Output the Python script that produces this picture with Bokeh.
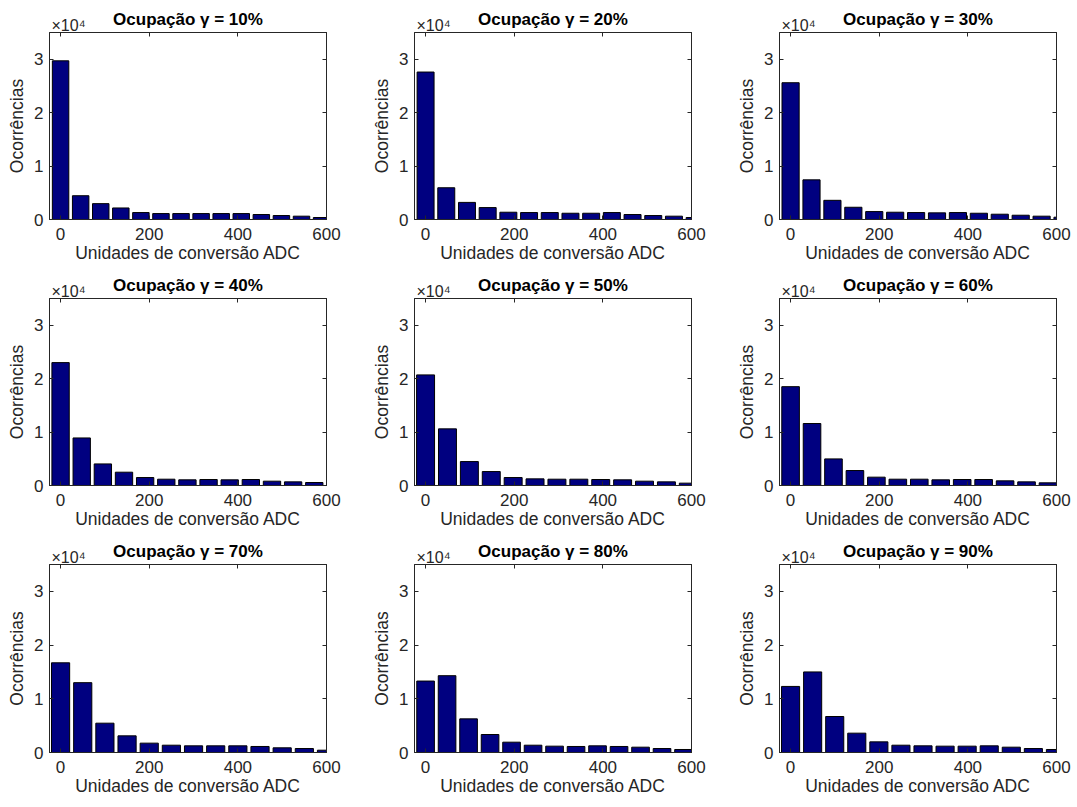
from bokeh.plotting import figure
from bokeh.models import Range1d, FixedTicker, LinearAxis, Title
from bokeh.layouts import row, column
from bokeh.embed import file_html
from bokeh.resources import INLINE

# ---- data ----
occupancy = ["10%", "20%", "30%", "40%", "50%", "60%", "70%", "80%", "90%"]
bin_step = [45.3, 46.7, 47.2, 47.7, 49.4, 48.4, 50.0, 48.5, 49.8]

counts_10 = [29700, 4450, 2970, 2160, 1300, 1110, 1110, 1110, 1110, 1110, 930, 740, 620, 370]
counts_20 = [27600, 5940, 3200, 2230, 1360, 1300, 1300, 1170, 1170, 1300, 930, 740, 620, 370]
counts_30 = [25600, 7420, 3590, 2290, 1480, 1360, 1300, 1240, 1300, 1170, 990, 800, 620, 430]
counts_40 = [23000, 8900, 4040, 2490, 1490, 1180, 1060, 1120, 1060, 1120, 810, 680, 560]
counts_50 = [20700, 10600, 4480, 2610, 1490, 1240, 1180, 1180, 1120, 1060, 810, 680, 440]
counts_60 = [18500, 11600, 4980, 2800, 1560, 1180, 1180, 1060, 1120, 1120, 870, 680, 500]
counts_70 = [16700, 13000, 5460, 3100, 1740, 1360, 1240, 1240, 1240, 1120, 870, 740, 430]
counts_80 = [13300, 14300, 6260, 3350, 1920, 1360, 1180, 1120, 1240, 1120, 990, 740, 560]
counts_90 = [12300, 15000, 6700, 3600, 1980, 1360, 1240, 1180, 1180, 1240, 990, 740, 560]

all_counts = [counts_10, counts_20, counts_30, counts_40, counts_50,
              counts_60, counts_70, counts_80, counts_90]

x_ticks = [0, 200, 400, 600]
y_ticks = [0, 10000, 20000, 30000]
y_tick_labels = {0: "0", 10000: "1", 20000: "2", 30000: "3"}

FONT = "Liberation Sans"
AX = "#262626"
BAR = "#000080"

col_w = [365, 365, 347]
row_h = [266, 266, 275]
frame_w = 277


def make_panel(i):
    r, c = divmod(i, 3)
    W, H = col_w[c], row_h[r]
    frame_h = 187 if r < 2 else 188
    bl, bt = 49, 32
    br = W - bl - frame_w
    bb = H - bt - frame_h
    p = figure(width=W, height=H, output_backend="svg", toolbar_location=None,
               title_location=None,
               x_range=Range1d(-25, 600), y_range=Range1d(0, 35000),
               min_border_left=bl, min_border_right=br,
               min_border_top=bt, min_border_bottom=bb,
               background_fill_color="white", border_fill_color="white")
    p.xgrid.visible = False
    p.ygrid.visible = False
    p.outline_line_color = AX

    counts = all_counts[i]
    step = bin_step[i]
    centers = [k * step for k in range(len(counts))]
    p.vbar(x=centers, top=counts, width=0.82 * step, bottom=0,
           fill_color=BAR, line_color="black", line_width=1)

    for ax in p.xaxis:
        ax.ticker = FixedTicker(ticks=x_ticks)
        ax.axis_label = "Unidades de conversão ADC"
    for ax in p.yaxis:
        ax.ticker = FixedTicker(ticks=y_ticks)
        ax.major_label_overrides = y_tick_labels
        ax.axis_label = "Ocorrências"
    for ax in list(p.xaxis) + list(p.yaxis):
        ax.major_tick_in = 4
        ax.major_tick_out = 0
        ax.minor_tick_line_color = None
        ax.axis_line_color = AX
        ax.major_tick_line_color = AX
        ax.major_label_text_color = AX
        ax.major_label_text_font = FONT
        ax.major_label_text_font_size = "17px"
        ax.axis_label_text_font = FONT
        ax.axis_label_text_font_size = "17.5px"
        ax.axis_label_text_font_style = "normal"
        ax.axis_label_text_color = AX
    p.xaxis.major_label_standoff = 8
    p.xaxis.axis_label_standoff = 0
    p.yaxis.major_label_standoff = 6
    p.yaxis.axis_label_standoff = 4

    # mirrored box ticks (labels not drawn)
    for loc, tk in (("above", x_ticks), ("right", y_ticks)):
        mirror = LinearAxis(ticker=FixedTicker(ticks=tk), major_tick_in=4, major_tick_out=0,
                            minor_tick_line_color=None, major_label_text_font_size="1px",
                            major_label_text_color=None, axis_line_color=AX,
                            major_tick_line_color=AX, major_label_standoff=0)
        p.add_layout(mirror, loc)

    exp_title = Title(text="×10⁴", align="left", offset=2, standoff=-2,
                      text_font=FONT, text_font_size="16px", text_font_style="normal",
                      text_color=AX)
    main_title = Title(text="Ocupação γ = " + occupancy[i], align="center", standoff=-27,
                       text_font=FONT, text_font_size="17px", text_font_style="bold",
                       text_color="black")
    p.add_layout(exp_title, "above")
    p.add_layout(main_title, "above")
    return p


panels = [make_panel(i) for i in range(9)]
layout = column(row(*panels[0:3]), row(*panels[3:6]), row(*panels[6:9]))

with open("out.html", "w") as f:
    f.write(file_html(layout, INLINE))
